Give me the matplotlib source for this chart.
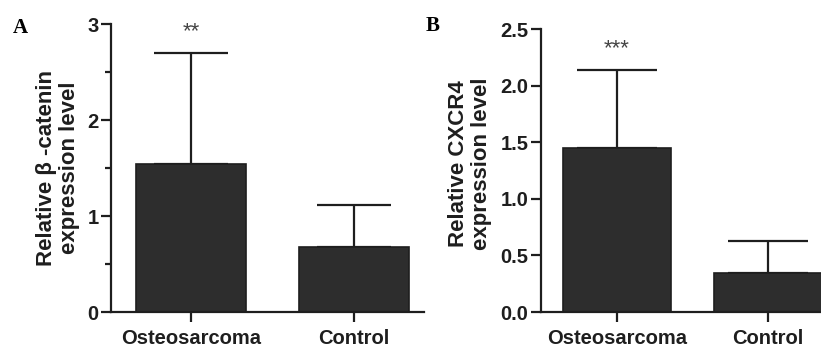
import matplotlib
matplotlib.use('Agg')
import matplotlib.pyplot as plt
from matplotlib.ticker import MultipleLocator

plt.rcParams['font.family'] = ['Liberation Sans', 'DejaVu Sans']

groups = ['Osteosarcoma', 'Control']

# panel A: beta-catenin
catenin_mean = [1.54, 0.68]
catenin_sd = [1.16, 0.43]
# panel B: CXCR4
cxcr4_mean = [1.45, 0.345]
cxcr4_sd = [0.69, 0.285]

bar_color = '#2d2d2d'
ink = '#1e1e1e'

fig = plt.figure(figsize=(8.21, 3.52), dpi=100)


def style_axis(ax, ylim, major, minor=None):
    ax.set_ylim(*ylim)
    ax.yaxis.set_major_locator(MultipleLocator(major))
    if minor:
        ax.yaxis.set_minor_locator(MultipleLocator(minor))
    for side in ['top', 'right']:
        ax.spines[side].set_visible(False)
    for side in ['left', 'bottom']:
        ax.spines[side].set_linewidth(1.6)
        ax.spines[side].set_color(ink)
    ax.tick_params(axis='both', which='major', length=7, width=1.6, color=ink,
                   labelsize=14.5, labelcolor=ink)
    ax.tick_params(axis='y', which='minor', length=4, width=1.6, color=ink)
    ax.tick_params(axis='x', pad=5)
    ax.tick_params(axis='y', pad=2)
    for lbl in ax.get_xticklabels() + ax.get_yticklabels():
        lbl.set_fontweight('bold')


def draw_panel(ax, means, sds, width):
    x = range(len(groups))
    ax.bar(x, means, width=width, color=bar_color, edgecolor=ink, linewidth=1.2, zorder=2)
    ax.errorbar(x, means, yerr=[[0] * len(sds), sds], fmt='none', ecolor=ink,
                elinewidth=1.6, capsize=width * 40, capthick=1.6, zorder=1)
    ax.set_xticks(list(x))
    ax.set_xticklabels(groups)


# Panel A
axA = fig.add_axes([0.1352, 0.1136, 0.3813, 0.8182])
draw_panel(axA, catenin_mean, catenin_sd, 0.67)
axA.set_xlim(-0.49, 1.43)
style_axis(axA, (0, 3), 1, 0.5)
axA.set_ylabel('Relative \u03b2 -catenin\nexpression level', fontsize=16,
               fontweight='bold', color=ink, linespacing=1.12)
axA.yaxis.set_label_coords(-0.10, 0.5)
axA.text(0, 2.92, '**', ha='center', va='center', fontsize=16, color='#444444')
fig.text(0.015, 0.92, 'A', family=['Liberation Serif', 'DejaVu Serif'],
         fontsize=15, fontweight='bold', va='center', color='black')

# Panel B
axB = fig.add_axes([0.659, 0.1136, 0.341, 0.8033])
draw_panel(axB, cxcr4_mean, cxcr4_sd, 0.715)
axB.set_xlim(-0.503, 1.35)
style_axis(axB, (0, 2.5), 0.5)
axB.set_ylabel('Relative CXCR4\nexpression level', fontsize=16,
               fontweight='bold', color=ink, linespacing=1.12)
axB.yaxis.set_label_coords(-0.175, 0.525)
axB.text(0, 2.33, '***', ha='center', va='center', fontsize=16, color='#444444')
fig.text(0.519, 0.925, 'B', family=['Liberation Serif', 'DejaVu Serif'],
         fontsize=15, fontweight='bold', va='center', color='black')

fig.savefig('out.png', dpi=100)
